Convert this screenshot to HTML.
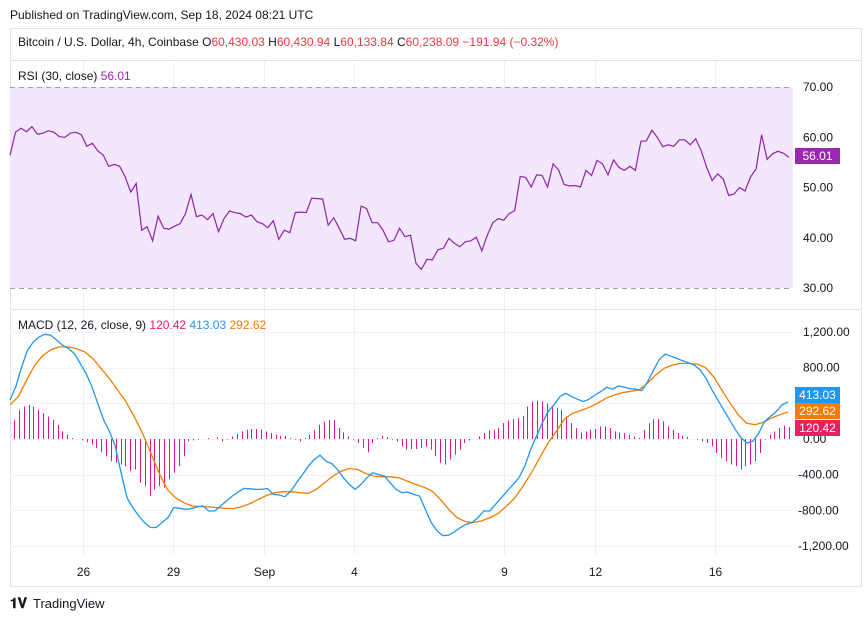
<!DOCTYPE html>
<html><head><meta charset="utf-8">
<style>
body{margin:0;background:#fff;width:866px;height:621px;overflow:hidden;font-family:"Liberation Sans",sans-serif;}
svg text{font-family:"Liberation Sans",sans-serif;}
</style></head>
<body>
<svg id="c" width="866" height="621" viewBox="0 0 866 621">
<text x="10" y="19" font-size="12" fill="#131722">Published on TradingView.com, Sep 18, 2024 08:21 UTC</text>
<rect x="10.5" y="28.5" width="851" height="558" fill="#fff" stroke="#e0e3eb"/>
<line x1="10" y1="60.5" x2="862" y2="60.5" stroke="#e0e3eb"/>
<text x="18" y="46" font-size="12" fill="#131722">Bitcoin / U.S. Dollar, 4h, Coinbase <tspan>O</tspan><tspan fill="#f23645">60,430.03</tspan> <tspan>H</tspan><tspan fill="#f23645">60,430.94</tspan> <tspan>L</tspan><tspan fill="#f23645">60,133.84</tspan> <tspan>C</tspan><tspan fill="#f23645">60,238.09</tspan> <tspan fill="#f23645">−191.94 (−0.32%)</tspan></text>
<g id="grid"></g>
<rect x="10" y="87" width="783" height="201" fill="#f3e7fd"/>
<line x1="10" y1="87.5" x2="793" y2="87.5" stroke="#a0a0a8" stroke-dasharray="5,4"/>
<line x1="10" y1="288.5" x2="793" y2="288.5" stroke="#a0a0a8" stroke-dasharray="5,4"/>
<line x1="10" y1="309.5" x2="862" y2="309.5" stroke="#e0e3eb"/>
<text x="18" y="80" font-size="12" fill="#131722">RSI (30, close) <tspan fill="#9c27b0">56.01</tspan></text>
<text x="18" y="329" font-size="12" fill="#131722">MACD (12, 26, close, 9) <tspan fill="#e91e63">120.42</tspan> <tspan fill="#2196f3">413.03</tspan> <tspan fill="#f57c00">292.62</tspan></text>
<g id="marks"></g>
<g id="axes"></g>
<g>
<text x="10" y="608" font-size="14" font-weight="bold" fill="#131722">𝟏𝐕</text>
<text x="33" y="608" font-size="13" fill="#131722">TradingView</text>
</g>
</svg>
<script>
const rsiValues=[56.4,61,61.8,61.1,62.1,60.6,60.8,61.3,61,60.1,60,60.8,61,60.5,58.2,58.8,57.3,56.4,54.2,54.6,54.2,52.1,49.1,50.8,41.5,42.2,39.4,44.3,41.9,41.7,42.3,42.8,44.8,48.6,44.2,44.5,43.6,44.8,41.2,43.8,45.3,45,44.8,44.1,44.5,43.2,42.8,42,43.4,39.7,41.5,41,45,45.1,45,47.9,47.8,47.7,42.5,44,41.9,39.7,39.9,39.4,46.3,45.8,43,43,41.5,39.2,39.5,41.9,40.2,40.5,34.9,33.7,35.7,35.6,37.6,37.9,39.9,38.9,38.2,39.2,39.4,40.1,37.4,40.5,43,43.8,43.5,44.8,45.4,52.2,52,50.1,52.5,52.4,50.1,54.7,53.5,50.6,50.3,50.4,50.1,53.4,52.4,55.4,54.7,52.5,55.5,54,53.4,54.2,53.4,59.2,59.3,61.4,60,58.1,58.5,58.2,59.5,59.5,58.5,59.7,57.3,54,51.4,52.7,51.7,48.4,48.7,50,49.3,52.1,53.7,60.5,55.6,56.7,57.2,56.8,56];
const macdValues=[439,587,810,996,1089,1145,1175,1163,1108,1052,1015,959,848,736,587,401,216,86,-82,-379,-658,-769,-862,-937,-992,-992,-937,-881,-769,-777,-788,-781,-762,-751,-807,-807,-751,-695,-639,-595,-554,-558,-565,-565,-554,-621,-628,-647,-584,-491,-398,-305,-230,-182,-249,-275,-342,-435,-509,-565,-509,-435,-379,-398,-416,-491,-565,-602,-595,-621,-639,-788,-937,-1030,-1085,-1078,-1041,-992,-955,-937,-881,-807,-807,-732,-658,-584,-509,-435,-305,-119,30,178,309,383,476,513,476,446,420,446,494,532,580,558,595,580,565,558,543,643,773,892,952,929,903,877,855,829,773,680,550,439,327,216,104,11,-45,-26,67,197,253,309,383,416];
const signalValues=[383,476,662,829,940,1004,1033,1033,1015,978,903,792,680,550,420,253,67,-156,-379,-565,-658,-714,-751,-758,-762,-769,-777,-781,-758,-725,-677,-632,-602,-591,-591,-602,-610,-565,-491,-416,-361,-331,-342,-387,-416,-424,-424,-435,-472,-509,-539,-584,-677,-788,-881,-926,-937,-918,-881,-833,-751,-658,-528,-379,-212,-45,86,223,290,320,357,401,457,494,520,535,550,624,717,792,829,848,848,840,803,699,550,401,271,178,160,186,234,271,305];
const histValues=[216,327,364,383,364,327,290,253,216,160,86,48,11,0,-15,-37,-63,-100,-149,-193,-249,-268,-286,-305,-360,-342,-490,-528,-639,-565,-528,-546,-453,-379,-305,-193,-26,-15,-7,0,11,0,19,-26,-7,30,59,86,104,112,112,104,86,67,48,37,37,11,-7,-26,11,48,104,160,197,216,216,123,74,30,-7,-45,-100,-149,-45,11,37,22,-7,-26,-82,-119,-112,-112,-100,-89,-119,-193,-268,-286,-230,-175,-119,-45,-15,0,30,67,97,104,123,178,208,223,234,260,364,420,431,420,401,364,346,327,253,178,123,74,86,104,112,141,141,123,86,74,67,48,30,11,104,178,223,223,197,141,104,67,37,22,0,-7,-26,-45,-82,-156,-212,-249,-286,-305,-342,-305,-286,-249,-156,-7,48,86,123,149,134];
const dateLabels=["26","29","Sep","4","9","12","16"];
const dateBarIdx=[14.5,32.5,50.5,68.5,98.5,116.5,140.5];
const rsiTicks=[70,60,50,40,30];
const macdTicks=[1200,800,400,0,-400,-800,-1200];

const NS="http://www.w3.org/2000/svg";
function mk(tag,attrs,parent){const e=document.createElementNS(NS,tag);for(const k in attrs)e.setAttribute(k,attrs[k]);parent.appendChild(e);return e;}
const PX0=10,PX1=793;
function xAt(i,n,a,b){return a+(b-a)*i/(n-1);}
function barX(i){return 10+i*5.02;}
function yR(v){return 87+(70-v)*201/40;}
function yM(v){return 439-v*107/1200;}
const grid=document.getElementById('grid'),marks=document.getElementById('marks'),axes=document.getElementById('axes');

dateBarIdx.forEach((b,i)=>{
  const x=Math.round(barX(b))+0.5;
  const l=mk('line',{x1:x,y1:61,x2:x,y2:555,stroke:'#eef0f5'},grid);
  
  
  const t=mk('text',{x:x,y:576,'font-size':12,fill:'#131722','text-anchor':'middle'},axes);
  t.textContent=dateLabels[i];
  
  
});
rsiTicks.forEach(v=>{
  if(v!==70&&v!==30){const y=Math.round(yR(v))+0.5;
    const l=mk('line',{x1:PX0,y1:y,x2:PX1,y2:y,stroke:'#e9e0f5'},grid);
    
    }
  const t=mk('text',{x:803,y:yR(v)+4,'font-size':12,fill:'#131722'},axes);
  t.textContent=v.toFixed(2);
  
  
});
macdTicks.forEach(v=>{
  const y=Math.round(yM(v))+0.5;
  const l=mk('line',{x1:PX0,y1:y,x2:PX1,y2:y,stroke:'#f0f3fa'},grid);
  
  
  const s=(v<0?'-':'')+Math.abs(v).toLocaleString('en-US',{minimumFractionDigits:2});
  const t=mk('text',{x:v<0?798:803,y:yM(v)+4,'font-size':12,fill:'#131722'},axes);
  t.textContent=s;
  
  
});
const rp=mk('polyline',{points:rsiValues.map((v,i)=>xAt(i,rsiValues.length,10,789).toFixed(1)+','+yR(v).toFixed(1)).join(' '),fill:'none',stroke:'#8e24aa','stroke-width':1.2},marks);


histValues.forEach((v,i)=>{
  const x=Math.round(xAt(i,histValues.length,14,789))+0.5;
  const b=mk('line',{x1:x,y1:yM(0),x2:x,y2:yM(v),stroke:'#e0168f','stroke-width':1},marks);
  
  
});
const sp=mk('polyline',{points:signalValues.map((v,i)=>xAt(i,signalValues.length,10,788).toFixed(1)+','+yM(v).toFixed(1)).join(' '),fill:'none',stroke:'#f57c00','stroke-width':1.3},marks);


const mp=mk('polyline',{points:macdValues.map((v,i)=>xAt(i,macdValues.length,10,788).toFixed(1)+','+yM(v).toFixed(1)).join(' '),fill:'none',stroke:'#2196f3','stroke-width':1.3},marks);


function tag(y,txt,bg,name){
  const g=mk('g',{},axes);
  
  
  mk('rect',{x:795,y:y-8,width:45,height:16,fill:bg},g);
  const t=mk('text',{x:817.5,y:y+4,'font-size':12,fill:'#fff','text-anchor':'middle'},g);
  t.textContent=txt;
}
tag(156,'56.01','#9c27b0','rsi-value-tag');
tag(395,'413.03','#2196f3','macd-value-tag');
tag(411,'292.62','#f57c00','signal-value-tag');
tag(428,'120.42','#e91e63','histogram-value-tag');
</script>
</body></html>
